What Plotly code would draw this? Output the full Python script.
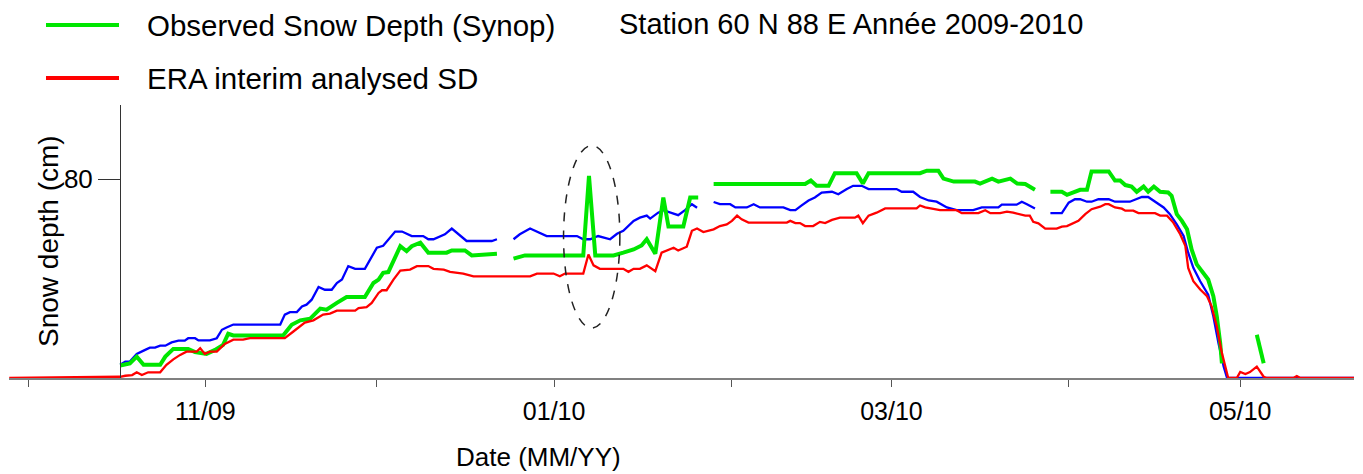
import pandas as pd
import plotly.graph_objects as go

# ---------------- data (days after 1 Oct 2009, snow depth in cm) ----------------
BASE_DATE = "2009-10-01"

# blue curve (no legend entry in the original)
blue_day = [
    16.1, 17.0, 17.8, 19.0, 20.2, 21.3, 22.2, 23.1, 24.0, 25.1,
    26.3, 27.4, 28.0, 29.2, 29.8, 31.8, 33.0, 33.9, 34.7, 35.9,
    44.1, 44.9, 45.8, 47.0, 47.9, 48.7, 49.6, 50.8, 51.9, 53.1,
    54.0, 54.9, 56.0, 57.2, 58.9, 59.8, 61.0, 62.1, 63.0, 64.2,
    65.4, 67.1, 69.1, 70.0, 70.9, 72.1, 72.9, 74.1, 75.3, 76.7,
    81.1, 82.0, 83.4, 84.9, 86.0, 87.8, 89.2, 90.7, 96.0, 97.1,
    98.3, 99.7, 101.8, 103.0, 104.1, 105.9, 107.0, 108.2, 108.8, 110.2,
    111.1, 112.0, 113.7, 114.9, 116.1, 117.0, 118.5, 119.9, 121.0, 122.8,
    123.7, 125.7, 126.9, 128.0, 132.1, 133.3, 134.2, 135.3, 136.5, 137.6,
    138.8, 140.6, 141.7, 143.2, 144.3, 145.8, 147.0, 151.9, 152.8, 154.8,
    156.0, 157.5, 158.9, 160.7, 162.4, 165.3, 166.8, 169.7, 170.3, 172.9,
    173.8, 174.7, 176.1, 177.5, 178.8, 180.8, 182.0, 183.1, 184.0, 185.2,
    186.0, 187.2, 189.0, 190.1, 192.7, 193.9, 194.8, 195.9, 196.8, 198.6,
    199.7, 200.9, 202.1, 202.9, 203.8, 205.0, 206.4, 207.3, 208.2, 209.1,
    209.7, 231.9]
blue_cm = [
    5.3, 6.6, 6.6, 9.7, 11.0, 12.2, 12.2, 13.0, 13.0, 14.3,
    15.0, 15.0, 16.0, 16.0, 15.1, 15.1, 16.0, 19.4, 20.3, 21.5,
    21.5, 25.5, 26.5, 26.5, 28.8, 29.5, 31.5, 36.6, 35.5, 35.5,
    38.2, 39.6, 45.0, 43.9, 43.9, 47.7, 52.4, 53.2, 55.8, 58.9,
    58.9, 57.1, 57.1, 55.8, 55.8, 57.1, 57.8, 60.1, 57.8, 55.1,
    55.1, 55.8, None, 55.8, 57.8, 60.1, 58.5, 57.1, 57.1, 55.8,
    55.8, 57.1, 55.8, 58.0, 59.2, 63.2, 64.5, 65.3, 64.1, 66.5,
    67.5, 66.8, 65.5, 67.5, 69.9, 68.5, None, 70.8, 69.9, 69.9,
    68.6, 68.6, 69.9, 68.6, 68.6, 67.5, 67.5, 69.4, 71.4, 72.6,
    74.6, 74.9, 73.9, 76.0, 77.3, 77.3, 76.0, 76.0, 74.9, 74.9,
    72.8, 71.4, 70.9, 68.6, 67.5, 67.5, 68.6, 68.6, 69.7, 69.7,
    70.9, 69.9, 68.2, None, 66.3, 66.3, 70.5, 71.9, 71.9, 70.9,
    70.9, 71.9, 71.9, 70.9, 70.9, 71.9, 72.8, 72.8, 71.4, 68.6,
    65.9, 61.8, 57.1, 50.4, 44.3, 38.9, 33.5, 24.8, 14.0, 4.6,
    0.0, 0.0]

# Observed Snow Depth (Synop)
green_day = [
    16.1, 17.8, 19.0, 20.2, 23.1, 24.0, 25.4, 28.0, 29.2, 31.2,
    32.7, 34.1, 35.0, 35.9, 44.6, 46.1, 47.6, 49.3, 51.1, 52.2,
    54.0, 55.7, 58.9, 60.4, 61.3, 62.1, 63.0, 63.9, 65.1, 66.2,
    67.1, 68.6, 70.0, 73.2, 74.1, 76.4, 77.6, 82.0, 83.4, 84.9,
    86.9, 97.1, 98.1, 99.2, 102.4, 104.1, 105.9, 107.3, 108.2, 109.7,
    111.1, 112.0, 114.6, 115.8, 117.2, 118.5, 119.9, 135.9, 136.9, 137.9,
    140.0, 141.1, 144.9, 146.0, 147.0, 156.0, 157.2, 159.2, 160.1, 161.9,
    165.6, 166.5, 168.6, 169.7, 171.8, 173.0, 174.4, 176.1, 177.5, 178.8,
    180.8, 181.7, 184.0, 185.2, 186.0, 189.0, 190.1, 191.0, 191.9, 193.0,
    193.9, 195.1, 195.9, 196.9, 198.0, 199.4, 200.0, 200.9, 201.8, 202.7,
    203.5, 204.4, 205.6, 206.4, 207.3, 207.9, 208.5, 208.8, 212.0, 214.9,
    216.1]
green_cm = [
    5.0, 5.9, 8.6, 5.3, 5.3, 8.6, 11.7, 11.7, 10.4, 9.7,
    11.3, 13.3, 17.8, 17.1, 17.1, 21.4, 23.2, 23.8, 27.9, 27.5,
    30.2, 32.6, 32.6, 38.2, 39.6, 42.3, 42.6, 47.1, 53.0, 51.0,
    53.0, 54.4, 50.4, 50.4, 51.3, 51.3, 49.3, 50.0, None, 48.0,
    49.3, 49.3, 81.3, 49.3, 49.3, 50.4, 51.7, 53.3, 55.8, 50.0,
    72.6, 60.9, 60.9, 72.6, 72.6, None, 78.0, 78.0, 79.4, 77.3,
    77.3, 82.4, 82.4, 78.2, 82.4, 82.4, 83.4, 83.4, 80.2, 79.0,
    79.0, 78.2, 80.2, 79.0, 80.2, 78.2, 78.0, 75.7, None, 74.9,
    74.9, 73.7, 75.7, 75.7, 83.1, 83.1, 79.4, 79.4, 77.6, 77.0,
    74.9, 77.0, 74.9, 77.0, 74.9, 74.6, 73.3, 65.9, 63.2, 59.8,
    51.7, 45.7, 42.3, 39.6, 32.9, 24.8, 14.0, 5.9, None, 17.4,
    5.9]

# ERA interim analysed SD
red_day = [
    -3.3, 16.1, 17.0, 18.2, 19.0, 19.9, 21.0, 23.1, 24.2, 25.4,
    26.6, 27.7, 29.5, 30.1, 30.9, 31.8, 33.0, 34.4, 35.9, 37.6,
    38.8, 44.9, 46.4, 48.4, 49.9, 51.6, 52.8, 54.0, 57.2, 57.8,
    59.2, 60.1, 61.3, 61.9, 62.7, 63.9, 65.1, 66.8, 68.0, 70.0,
    70.9, 72.7, 73.8, 76.1, 77.9, 87.8, 89.0, 91.9, 93.0, 93.9,
    97.1, 98.0, 98.9, 100.0, 104.1, 105.0, 105.9, 107.0, 108.2, 109.7,
    110.8, 112.9, 113.7, 115.2, 116.1, 117.0, 118.1, 119.9, 121.0, 122.2,
    123.1, 124.0, 124.8, 126.0, 132.7, 133.3, 134.2, 135.0, 135.9, 137.3,
    138.5, 139.4, 140.6, 142.0, 144.6, 145.2, 146.0, 147.0, 148.4, 149.9,
    155.4, 156.0, 156.9, 158.3, 159.5, 162.4, 163.3, 166.2, 167.4, 168.3,
    170.0, 171.2, 172.3, 174.4, 175.2, 175.8, 176.7, 177.9, 179.9, 180.8,
    181.7, 183.7, 184.9, 186.0, 187.5, 188.4, 189.0, 190.1, 191.3, 191.9,
    193.3, 194.2, 197.1, 198.0, 199.2, 200.3, 201.5, 202.4, 202.9, 203.8,
    205.0, 206.2, 207.0, 207.9, 208.8, 209.9, 211.4, 212.0, 212.9, 213.7,
    214.9, 216.1, 216.6, 221.3, 221.9, 222.5, 231.9]
red_cm = [
    0.0, 0.5, 0.9, 1.2, 2.3, 1.2, 2.3, 2.3, 5.3, 7.5,
    9.3, 10.6, 10.6, 12.0, 9.7, 10.6, 10.6, 13.7, 15.4, 15.4,
    16.0, 16.0, 18.7, 22.3, 23.2, 25.5, 25.9, 27.1, 27.1, 28.1,
    28.5, 30.2, 34.2, 35.3, 35.3, 39.6, 43.2, 43.6, 45.0, 45.0,
    43.9, 43.6, 42.7, 42.0, 40.9, 40.9, 42.0, 42.0, 40.9, 42.0,
    42.0, 49.7, 45.3, 43.9, 43.9, 42.7, 43.9, 43.9, 45.3, 43.0,
    50.4, 52.4, 51.3, 52.8, 59.2, 60.1, 58.7, 59.8, 61.1, 61.8,
    63.2, 65.3, 63.8, 62.5, 62.5, 63.2, 62.3, 62.3, 61.1, 61.1,
    62.8, 62.3, 63.6, 64.5, 64.5, 65.3, 62.3, 65.3, 66.5, 68.2,
    68.2, 69.4, 68.6, 68.1, 67.5, 67.5, 66.3, 66.3, 67.5, 66.3,
    66.3, 66.9, 66.5, 65.3, 65.3, 62.8, 62.2, 60.1, 60.1, 60.9,
    61.1, 63.2, 65.9, 67.9, 68.9, 69.9, 69.9, 68.6, 68.1, 67.3,
    67.3, 66.3, 66.3, 65.3, 65.3, 62.5, 57.8, 53.2, 44.3, 38.9,
    35.6, 32.9, 28.8, 20.7, 10.0, 0.0, 0.0, 2.4, 1.6, 2.4,
    4.6, 0.5, 0.0, 0.0, 0.8, 0.0, 0.0]

month_ticks = ["2009-10-01", "2009-11-01", "2009-12-01", "2010-01-01",
               "2010-02-01", "2010-03-01", "2010-04-01", "2010-05-01"]
month_labels = ["", "11/09", "", "01/10", "", "03/10", "", "05/10"]

y_ticks = [80]
y_labels = ["80"]

legend_names = ["Observed Snow Depth (Synop)", "ERA interim analysed SD"]
title_text = "Station 60 N 88 E Année 2009-2010"
x_title = "Date (MM/YY)"
y_title = "Snow depth (cm)"

# highlighted event (dashed ellipse) : day range and depth range
ellipse_days = [93.65, 103.5]
ellipse_cm = [20.1, 93.5]

x_range_days = [-3.34, 231.9]
y_range = [0, 109.8]

# ---------------- helpers ----------------
base = pd.Timestamp(BASE_DATE)


def to_dates(days):
    return [base + pd.Timedelta(days=d) for d in days]


W, H = 1363, 474
ML, MR, MT, MB = 9, 9, 105, 96
PW, PH = W - ML - MR, H - MT - MB


def px(x):
    return (x - ML) / PW


def py(y):
    return (H - MB - y) / PH


FONT = "Liberation Sans, Arial, sans-serif"
GREEN = "#00e600"
RED = "#ff0000"
BLUE = "#0000ff"

fig = go.Figure()
fig.add_trace(go.Scatter(x=to_dates(blue_day), y=blue_cm, mode="lines",
                         line=dict(color=BLUE, width=2.3), connectgaps=False,
                         showlegend=False, name="Blue curve"))
fig.add_trace(go.Scatter(x=to_dates(green_day), y=green_cm, mode="lines",
                         line=dict(color=GREEN, width=4), connectgaps=False,
                         showlegend=False, name=legend_names[0]))
fig.add_trace(go.Scatter(x=to_dates(red_day), y=red_cm, mode="lines",
                         line=dict(color=RED, width=2.3), connectgaps=False,
                         showlegend=False, name=legend_names[1]))

shapes = [
    dict(type="circle", xref="x", yref="y",
         x0=to_dates([ellipse_days[0]])[0], x1=to_dates([ellipse_days[1]])[0],
         y0=ellipse_cm[0], y1=ellipse_cm[1],
         line=dict(color="#222222", width=1.5, dash="dash")),
    dict(type="line", xref="paper", yref="paper", x0=px(46), x1=px(119),
         y0=py(25), y1=py(25), line=dict(color=GREEN, width=4)),
    dict(type="line", xref="paper", yref="paper", x0=px(46), x1=px(119),
         y0=py(78), y1=py(78), line=dict(color=RED, width=4)),
]

annotations = [
    dict(text=legend_names[0], x=px(145), y=py(26), xref="paper", yref="paper",
         xanchor="left", yanchor="middle", showarrow=False,
         font=dict(size=29.5, color="#000000", family=FONT)),
    dict(text=legend_names[1], x=px(145), y=py(79), xref="paper", yref="paper",
         xanchor="left", yanchor="middle", showarrow=False,
         font=dict(size=29.5, color="#000000", family=FONT)),
    dict(text=title_text, x=px(617), y=py(24), xref="paper", yref="paper",
         xanchor="left", yanchor="middle", showarrow=False,
         font=dict(size=29, color="#000000", family=FONT)),
    dict(text=x_title, x=px(538), y=py(457), xref="paper", yref="paper",
         xanchor="center", yanchor="middle", showarrow=False,
         font=dict(size=26, color="#000000", family=FONT)),
    dict(text=y_title, x=px(48), y=py(241), xref="paper", yref="paper",
         xanchor="center", yanchor="middle", showarrow=False, textangle=-90,
         font=dict(size=28, color="#000000", family=FONT)),
]

fig.update_layout(
    width=W, height=H, autosize=False,
    margin=dict(l=ML, r=MR, t=MT, b=MB, pad=0),
    paper_bgcolor="white", plot_bgcolor="white",
    font=dict(family=FONT, color="#000000"),
    showlegend=False,
    shapes=shapes,
    annotations=annotations,
    xaxis=dict(
        type="date",
        range=to_dates(x_range_days),
        tickvals=month_ticks, ticktext=month_labels,
        ticks="outside", ticklen=7, tickwidth=1, tickcolor="#555555",
        showline=True, linecolor="#808080", linewidth=2,
        showgrid=False, zeroline=False,
        tickfont=dict(size=25, color="#000000", family=FONT),
        ticklabelstandoff=3,
    ),
    yaxis=dict(
        range=y_range,
        tickvals=y_ticks, ticktext=y_labels,
        ticks="outside", ticklen=22, tickwidth=1, tickcolor="#333333",
        showline=True, linecolor="#333333", linewidth=1,
        showgrid=False, zeroline=False,
        anchor="free", position=px(120),
        tickfont=dict(size=26, color="#000000", family=FONT),
    ),
)

# remove the browser's default 8px body margin so the figure fills the window
fig.write_html("out.html",
               config={"displayModeBar": False},
               post_script="document.body.style.margin='0';"
                           "document.body.style.overflow='hidden';")
